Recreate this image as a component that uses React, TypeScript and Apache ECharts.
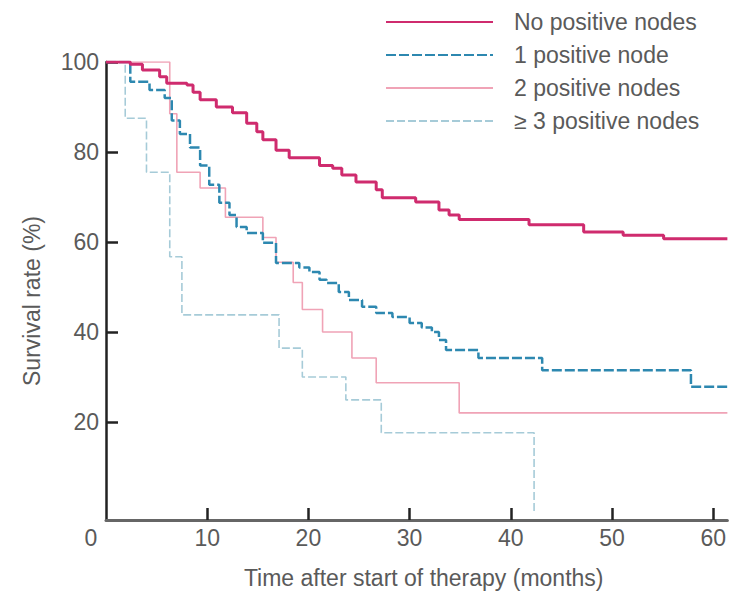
import React, { useEffect, useRef } from "react";
import * as echarts from "echarts";

const seriesNames = ["No positive nodes", "1 positive node", "2 positive nodes", "≥ 3 positive nodes"];

const xTicks = [0, 10, 20, 30, 40, 50, 60];
const yTicks = [20, 40, 60, 80, 100];

const noNodesTime = [0, 2.4, 3.6, 5.3, 6, 8, 8.6, 9.3, 10.9, 12.5, 13.9, 14.9, 15.5, 16.8, 18.1, 21.1, 22.4, 23.3, 24.7, 26.7, 27.3, 30.6, 32.9, 33.9, 34.9, 41.8, 47.2, 51.1, 55.1, 61.4];
const noNodesRate = [100, 99.5, 98.2, 96.7, 95.3, 94.9, 93.3, 91.6, 90, 88.7, 86.4, 84.5, 82.7, 80.4, 78.7, 77, 76.4, 74.9, 73.3, 71.6, 69.8, 68.9, 67.1, 66, 65, 63.8, 62.2, 61.5, 60.7, 60.7];

const oneNodeTime = [0, 2.4, 4.3, 5.8, 6.5, 7.3, 8.3, 9.3, 10.2, 11.2, 12.2, 12.9, 13.9, 15.5, 16.8, 19.1, 20.1, 21.1, 21.8, 23, 24, 25.3, 26.7, 28.3, 30, 31.2, 32.2, 32.9, 33.6, 36.8, 43.1, 57.8, 61.4];
const oneNodeRate = [100, 95.6, 93.8, 92, 87, 84, 81, 77, 72.7, 68.7, 66, 63.3, 62, 59.8, 55.3, 54.3, 53.3, 51.6, 50.9, 48.9, 47.1, 45.6, 44.2, 43.3, 42, 41, 40, 38.2, 36, 34.2, 31.5, 27.8, 27.8];

const twoNodesTime = [0, 6.3, 7, 9.3, 11.8, 15.5, 16.8, 18.5, 19.4, 21.4, 24.3, 26.7, 34.9, 61.4];
const twoNodesRate = [100, 88.5, 75.5, 72, 65.5, 61, 55.5, 51, 45, 40, 34.2, 28.7, 22, 22];

const threePlusTime = [0, 1.9, 4, 6.3, 7.5, 17.1, 19.4, 23.7, 27.2, 42.3];
const threePlusRate = [100, 87.5, 75.5, 56.7, 43.8, 36.4, 30, 24.9, 17.6, 0];

const FONT = "'Liberation Sans', Arial, Helvetica, sans-serif";
const TEXT = "#5a5a5a";

function pairs(t: number[], v: number[]) {
  return t.map((x, i) => [x, v[i]]);
}

export default function App() {
  const ref = useRef<HTMLDivElement>(null);
  useEffect(() => {
    const chart = echarts.init(ref.current!, null, { renderer: "svg" });
    chart.setOption({
      animation: false,
      backgroundColor: "#ffffff",
      textStyle: { fontFamily: FONT },
      grid: { left: 106, right: 0, top: 62, bottom: 75, containLabel: false },
      legend: {
        left: 380,
        top: 5,
        orient: "vertical",
        itemWidth: 107,
        itemHeight: 14,
        itemGap: 9,
        data: seriesNames,
        itemStyle: { opacity: 0, borderWidth: 0 },
        textStyle: { fontSize: 23, color: TEXT, fontFamily: FONT, lineHeight: 24, padding: [0, 0, 0, 16] },
      },
      xAxis: {
        type: "value",
        min: 0,
        max: 61.4,
        name: "Time after start of therapy (months)",
        nameLocation: "middle",
        nameGap: 46,
        nameTextStyle: { fontSize: 23, color: TEXT, fontFamily: FONT, padding: [0, 0, 0, 14] },
        axisLine: { show: true, onZero: false, lineStyle: { color: "#666", width: 3 } },
        axisTick: { show: true, inside: true, length: 12, customValues: xTicks.slice(1), lineStyle: { color: "#222", width: 2.5 } },
        axisLabel: {
          customValues: xTicks,
          margin: 6,
          fontSize: 23,
          color: TEXT,
          fontFamily: FONT,
          formatter: (v: number) => (v === 0 ? "{z|0}" : String(v)),
          rich: { z: { fontSize: 23, color: TEXT, fontFamily: FONT, padding: [0, 30, 0, 0] } },
        },
        splitLine: { show: false },
      },
      yAxis: {
        type: "value",
        min: -1.8,
        max: 100,
        name: "Survival rate (%)",
        nameLocation: "middle",
        nameGap: 63,
        nameTextStyle: { fontSize: 23, color: TEXT, fontFamily: FONT, padding: [0, 20, 0, 0] },
        axisLine: { show: true, onZero: false, lineStyle: { color: "#222", width: 2.5 } },
        axisTick: { show: true, inside: true, length: 12, customValues: yTicks, lineStyle: { color: "#222", width: 2.5 } },
        axisLabel: { customValues: yTicks, margin: 7, fontSize: 23, color: TEXT, fontFamily: FONT },
        splitLine: { show: false },
      },
      series: [
        {
          name: seriesNames[0],
          type: "line",
          step: "end",
          symbol: "none",
          z: 5,
          data: pairs(noNodesTime, noNodesRate),
          lineStyle: { color: "#cf2b6e", width: 3, type: "solid" },
          itemStyle: { color: "#cf2b6e" },
        },
        {
          name: seriesNames[1],
          type: "line",
          step: "end",
          symbol: "none",
          z: 4,
          data: pairs(oneNodeTime, oneNodeRate),
          lineStyle: { color: "#2d88b0", width: 2.5, type: [10, 3] },
          itemStyle: { color: "#2d88b0" },
        },
        {
          name: seriesNames[2],
          type: "line",
          step: "end",
          symbol: "none",
          z: 3,
          data: pairs(twoNodesTime, twoNodesRate),
          lineStyle: { color: "#f0a3b6", width: 1.6, type: "solid" },
          itemStyle: { color: "#f0a3b6" },
        },
        {
          name: seriesNames[3],
          type: "line",
          step: "end",
          symbol: "none",
          z: 2,
          data: pairs(threePlusTime, threePlusRate),
          lineStyle: { color: "#a6cbd8", width: 1.6, type: [8, 3] },
          itemStyle: { color: "#a6cbd8" },
        },
      ],
    });
    return () => chart.dispose();
  }, []);
  return (
    <div
      ref={ref}
      style={{ position: "fixed", left: 0, top: 0, width: 729, height: 595, background: "#fff" }}
    />
  );
}
